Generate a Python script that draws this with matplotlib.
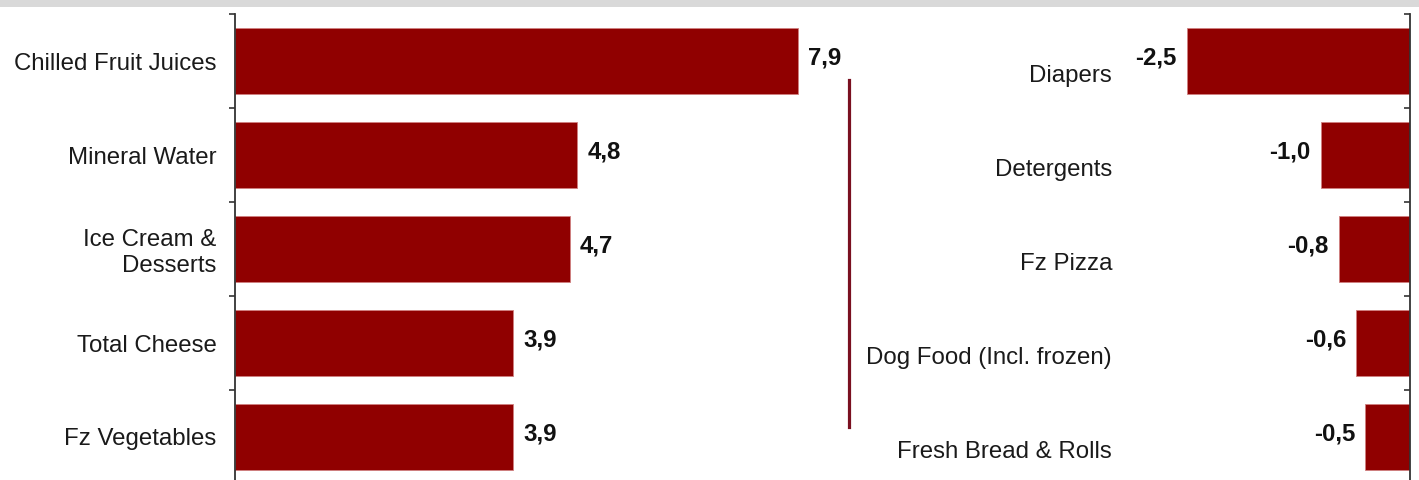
#!/usr/bin/env python3
# -*- coding: utf-8 -*-

#------------------------------------------------------------------------------
# IMPORT PYTHON LIBRARIES
#------------------------------------------------------------------------------
import numpy as np
import matplotlib as mpl
mpl.use('agg')
import matplotlib.pyplot as plt
from matplotlib.patches import Rectangle
from matplotlib.lines import Line2D

#------------------------------------------------------------------------------
# DATA
#------------------------------------------------------------------------------
growers = ['Chilled Fruit Juices', 'Mineral Water', 'Ice Cream &\nDesserts',
           'Total Cheese', 'Fz Vegetables']
growers_vals = [7.9, 4.8, 4.7, 3.9, 3.9]

decliners = ['Diapers', 'Detergents', 'Fz Pizza', 'Dog Food (Incl. frozen)',
             'Fresh Bread & Rolls']
decliners_vals = [-2.5, -1.0, -0.8, -0.6, -0.5]

#------------------------------------------------------------------------------
# SETTINGS
#------------------------------------------------------------------------------
W, H = 1419, 480
dpi = 100
fontsize = 17.3
barcolor = '#900000'
edgecolor = '#d08080'
plt.rcParams['font.family'] = ['Liberation Sans', 'DejaVu Sans']

def fx(px):
    return px / W

def fy(py):
    return 1 - py / H

def fmt(v):
    return ('%.1f' % v).replace('.', ',')

fig = plt.figure(figsize=(W / dpi, H / dpi), dpi=dpi)

# top grey band
fig.patches.append(Rectangle((0, fy(7)), 1, 7 / H, transform=fig.transFigure,
                             facecolor='#d9d9d9', edgecolor='none', zorder=0))

y_top, y_bot = 14, 484
n = len(growers)

#------------------------------------------------------------------------------
# LEFT PANEL: growers
#------------------------------------------------------------------------------
ax1_left, ax1_right = 235, 835
ax1 = fig.add_axes([fx(ax1_left), fy(y_bot), (ax1_right - ax1_left) / W, (y_bot - y_top) / H])
ypos = np.arange(n)
ax1.barh(ypos, growers_vals, height=0.71, color=barcolor, edgecolor=edgecolor, linewidth=0.6)
ax1.set_xlim(0, (ax1_right - ax1_left) / 71.3)
ax1.set_ylim(n - 0.5, -0.5)
for s in ['top', 'right', 'bottom']:
    ax1.spines[s].set_visible(False)
ax1.spines['left'].set_color('#333333')
ax1.spines['left'].set_linewidth(1.3)
ax1.set_xticks([])
ax1.set_yticks(ypos)
ax1.set_yticklabels(growers, fontsize=fontsize, color='#1a1a1a', ha='right')
ax1.tick_params(axis='y', which='major', length=0, pad=13.3)
ax1.set_yticks(np.arange(n + 1) - 0.5, minor=True)
ax1.tick_params(axis='y', which='minor', length=4, width=1.2, color='#333333')
for yy, v in zip(ypos, growers_vals):
    ax1.annotate(fmt(v), xy=(v, yy), xytext=(7.2, 2), textcoords='offset points',
                 ha='left', va='center', fontsize=fontsize, fontweight='bold', color='#111111')

#------------------------------------------------------------------------------
# RIGHT PANEL: decliners
#------------------------------------------------------------------------------
ax2_left, ax2_right = 1130, 1410
ax2 = fig.add_axes([fx(ax2_left), fy(y_bot), (ax2_right - ax2_left) / W, (y_bot - y_top) / H])
ax2.barh(ypos, decliners_vals, height=0.71, color=barcolor, edgecolor=edgecolor, linewidth=0.6)
ax2.set_xlim(-(ax2_right - ax2_left) / 89.3, 0)
ax2.set_ylim(n - 0.5, -0.5)
for s in ['top', 'left', 'bottom']:
    ax2.spines[s].set_visible(False)
ax2.spines['right'].set_color('#333333')
ax2.spines['right'].set_linewidth(1.3)
ax2.set_xticks([])
ax2.set_yticks([])
ax2.yaxis.tick_right()
ax2.set_yticks(np.arange(n + 1) - 0.5, minor=True)
ax2.tick_params(axis='y', which='minor', direction='in', length=4, width=1.2, color='#333333')
for yy, v, lab in zip(ypos, decliners_vals, decliners):
    ax2.annotate(fmt(v), xy=(v, yy), xytext=(-7.2, 2), textcoords='offset points',
                 ha='right', va='center', fontsize=fontsize, fontweight='bold', color='#111111')
    ax2.annotate(lab, xy=(fx(1112), yy), xycoords=('figure fraction', 'data'),
                 xytext=(0, -11), textcoords='offset points',
                 ha='right', va='center', fontsize=fontsize, color='#1a1a1a')

# divider line
fig.lines.append(Line2D([fx(849), fx(849)], [fy(427), fy(80)], transform=fig.transFigure,
                        color='#7a1020', linewidth=2.3))

plt.savefig('out.png', dpi=dpi)
plt.close('all')
print('** END')
